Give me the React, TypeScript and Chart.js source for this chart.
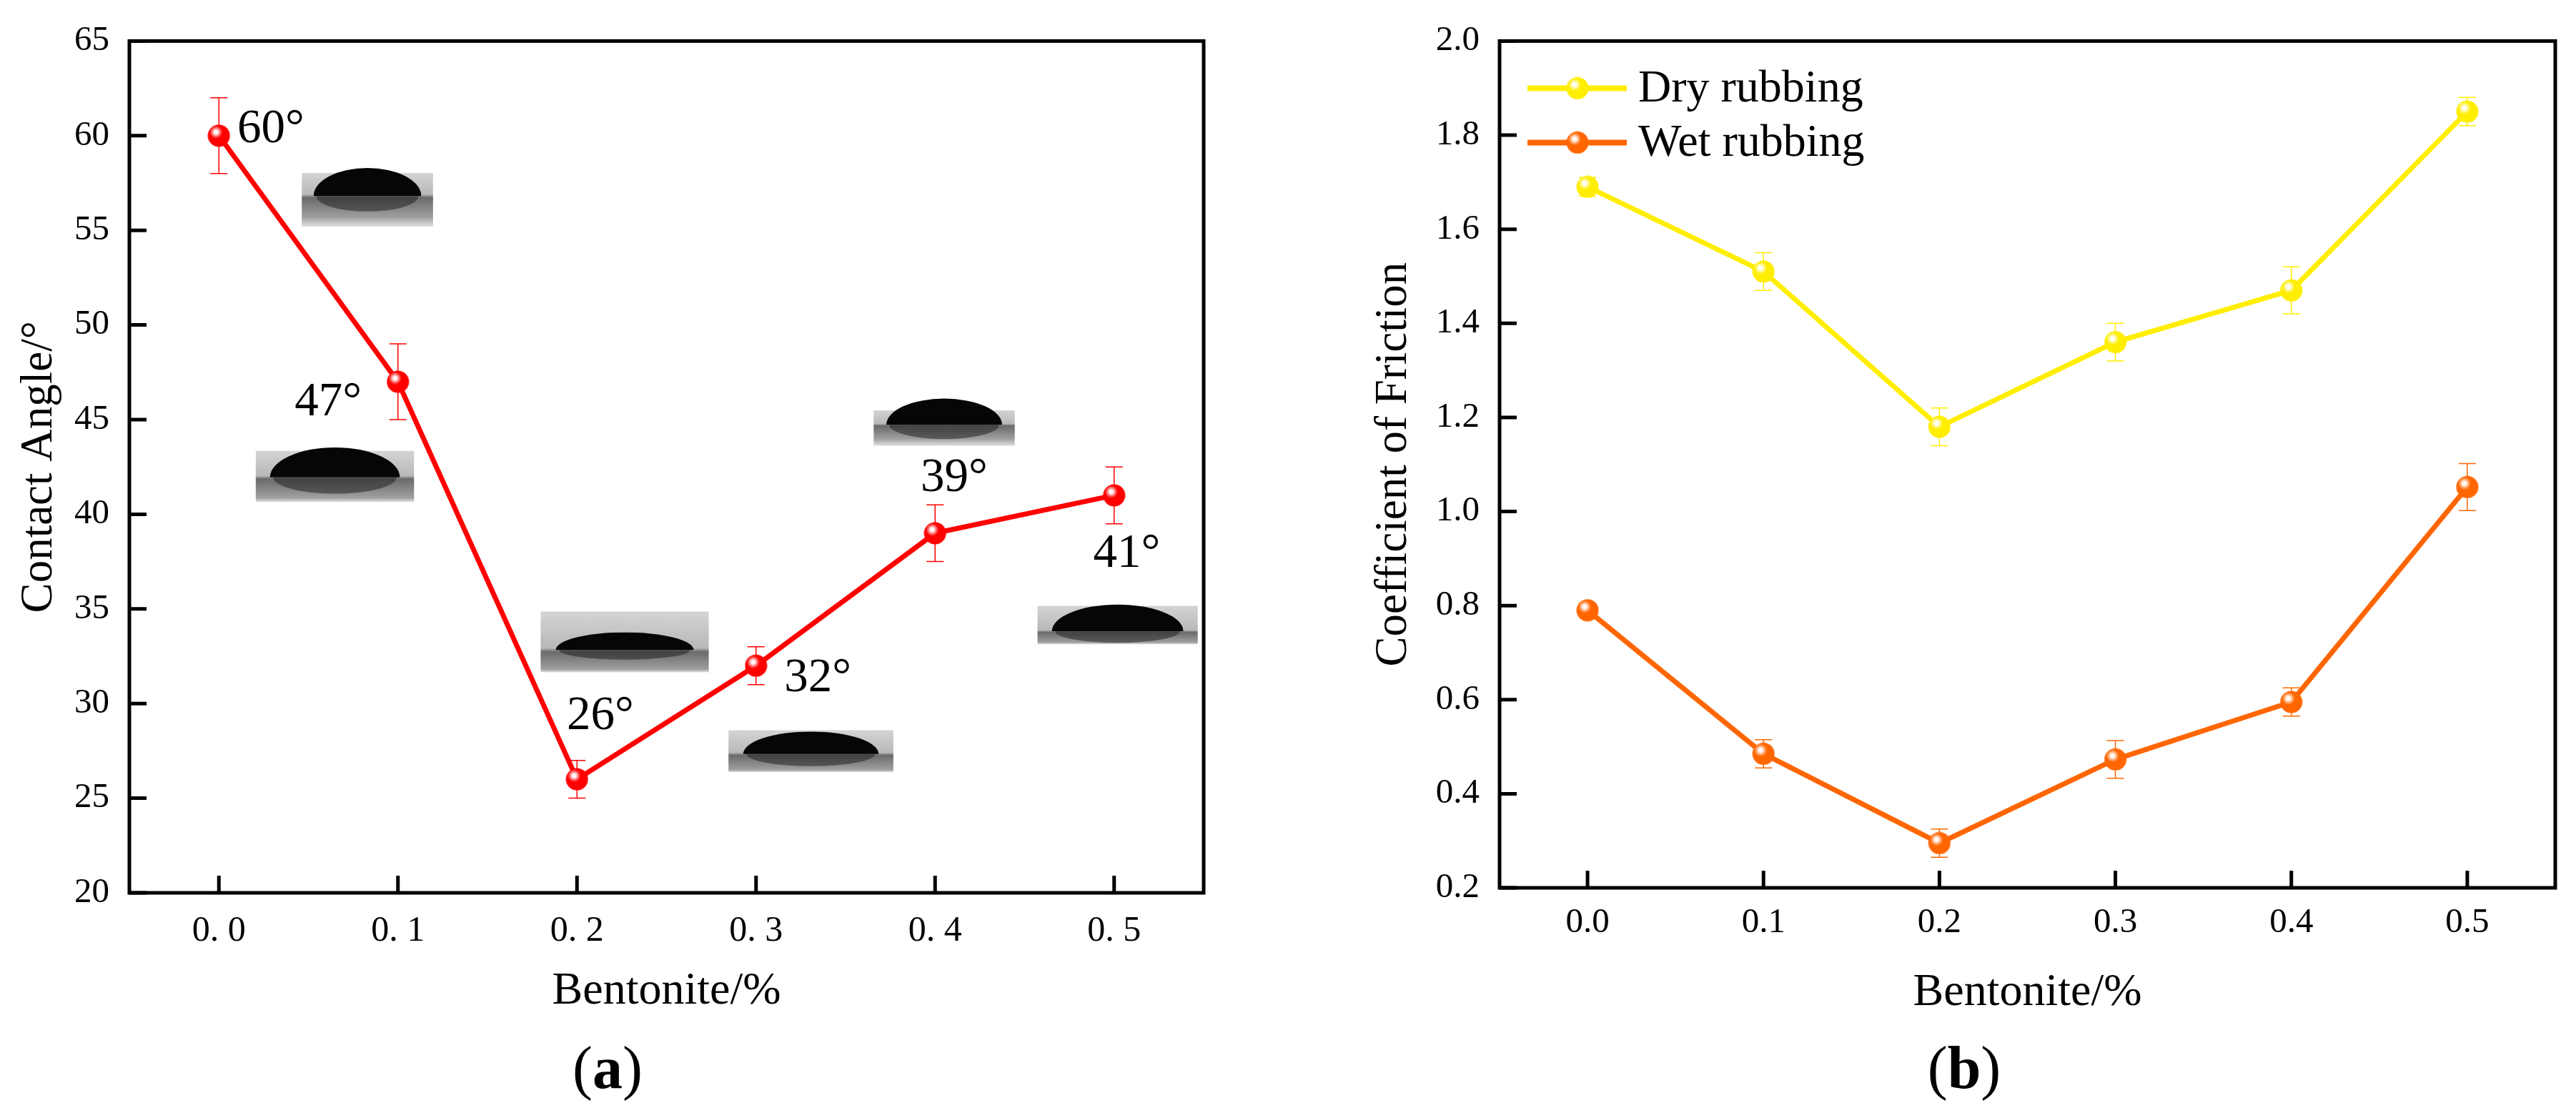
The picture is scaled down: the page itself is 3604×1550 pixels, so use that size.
import React, { useEffect, useRef } from 'react';
import { Chart, registerables } from 'chart.js';

Chart.register(...registerables);

const FONT = "'Liberation Serif', 'Times New Roman', serif";

// (a) contact angle
const bentonite = [0, 0.1, 0.2, 0.3, 0.4, 0.5];
const contactAngle = [60, 47, 26, 32, 39, 41];
const contactAngleErr = [2, 2, 1, 1, 1.5, 1.5];
const angleTicks = [20, 25, 30, 35, 40, 45, 50, 55, 60, 65];

// (b) coefficient of friction
const dryRubbing = [1.69, 1.51, 1.18, 1.36, 1.47, 1.85];
const dryRubbingErr = [0.02, 0.04, 0.04, 0.04, 0.05, 0.03];
const wetRubbing = [0.79, 0.485, 0.295, 0.473, 0.595, 1.052];
const wetRubbingErr = [0.015, 0.03, 0.03, 0.04, 0.03, 0.05];
const frictionTicks = [0.2, 0.4, 0.6, 0.8, 1.0, 1.2, 1.4, 1.6, 1.8, 2.0];
const bentoniteTicks = [0, 0.1, 0.2, 0.3, 0.4, 0.5];
const seriesNames = ['Dry rubbing', 'Wet rubbing'];

// annotations for (a): angle text and droplet photo stand-ins, in data units
const angleText = ['60°', '47°', '26°', '32°', '39°', '41°'];
const angleTextX = [0.029, 0.061, 0.213, 0.3345, 0.4106, 0.507];
const angleTextY = [60.3, 45.9, 29.3, 31.3, 41.9, 37.9];
// [xMin, xMax, yTop, yBottom, domeTop, baseline]
const droplets = [
  [0.0463, 0.1196, 58.03, 55.19, 58.29, 56.81],
  [0.0206, 0.109, 43.35, 40.65, 43.53, 41.95],
  [0.1797, 0.2736, 34.86, 31.65, 33.76, 32.83],
  [0.2846, 0.3767, 28.59, 26.38, 28.52, 27.34],
  [0.3657, 0.4445, 45.49, 43.61, 46.11, 44.73],
  [0.4572, 0.5467, 35.16, 33.13, 35.23, 33.82],
];

const RED = '#ff0000';
const YELLOW = '#ffee00';
const ORANGE = '#ff6600';

function sphere(color: string, d = 32): HTMLCanvasElement {
  const c = document.createElement('canvas');
  c.width = d;
  c.height = d;
  const g = c.getContext('2d')!;
  const r = d / 2;
  g.fillStyle = color;
  g.beginPath();
  g.arc(r, r, r - 0.5, 0, Math.PI * 2);
  g.fill();
  const hx = r - 4;
  const hy = r - 5;
  const grad = g.createRadialGradient(hx, hy, 0, hx, hy, 9);
  grad.addColorStop(0, 'rgba(255,255,255,1)');
  grad.addColorStop(0.3, 'rgba(255,255,255,0.95)');
  grad.addColorStop(0.6, 'rgba(255,255,255,0.5)');
  grad.addColorStop(1, 'rgba(255,255,255,0)');
  g.fillStyle = grad;
  g.beginPath();
  g.arc(r, r, r - 0.5, 0, Math.PI * 2);
  g.fill();
  return c;
}

// box frame + inward ticks
const framePlugin = {
  id: 'frame',
  afterDraw(chart: any) {
    const { ctx, chartArea, scales } = chart;
    const { left, right, top, bottom } = chartArea;
    ctx.save();
    ctx.strokeStyle = '#000';
    ctx.lineWidth = 5;
    ctx.beginPath();
    scales.x.ticks.forEach((t: any) => {
      const p = scales.x.getPixelForValue(t.value);
      ctx.moveTo(p, bottom);
      ctx.lineTo(p, bottom - 24);
    });
    scales.y.ticks.forEach((t: any) => {
      const p = scales.y.getPixelForValue(t.value);
      ctx.moveTo(left, p);
      ctx.lineTo(left + 24, p);
    });
    ctx.stroke();
    ctx.strokeRect(left, top, right - left, bottom - top);
    ctx.restore();
  },
};

function errorBarPlugin(errs: number[][], colors: string[]) {
  return {
    id: 'errorBars',
    beforeDatasetsDraw(chart: any) {
      const { ctx, scales } = chart;
      ctx.save();
      ctx.lineWidth = 1.5;
      chart.data.datasets.forEach((ds: any, di: number) => {
        const e = errs[di];
        if (!e) return;
        ctx.strokeStyle = colors[di];
        ds.data.forEach((pt: any, i: number) => {
          const px = scales.x.getPixelForValue(pt.x);
          const y0 = scales.y.getPixelForValue(pt.y - e[i]);
          const y1 = scales.y.getPixelForValue(pt.y + e[i]);
          ctx.beginPath();
          ctx.moveTo(px, y0);
          ctx.lineTo(px, y1);
          ctx.moveTo(px - 12, y0);
          ctx.lineTo(px + 12, y0);
          ctx.moveTo(px - 12, y1);
          ctx.lineTo(px + 12, y1);
          ctx.stroke();
        });
      });
      ctx.restore();
    },
  };
}

const decorPlugin = {
  id: 'decor',
  beforeDatasetsDraw(chart: any) {
    const { ctx, scales } = chart;
    const sx = scales.x;
    const sy = scales.y;
    ctx.save();
    droplets.forEach(([a, b, t, bt, dome, base]) => {
      const x0 = sx.getPixelForValue(a);
      const x1 = sx.getPixelForValue(b);
      const y0 = sy.getPixelForValue(t);
      const y1 = sy.getPixelForValue(bt);
      const yd = sy.getPixelForValue(dome);
      const yb = sy.getPixelForValue(base);
      const h = y1 - y0;
      const fb = Math.min(Math.max((yb - y0) / h, 0.05), 0.9);
      const g = ctx.createLinearGradient(0, y0, 0, y1);
      g.addColorStop(0, '#d4d4d4');
      g.addColorStop(fb - 0.03, '#b8b8b8');
      g.addColorStop(fb + 0.03, '#6a6a6a');
      g.addColorStop(Math.min(fb + 0.4, 0.95), '#a0a0a0');
      g.addColorStop(1, '#e2e2e2');
      ctx.fillStyle = g;
      ctx.fillRect(x0, y0, x1 - x0, h);
      const cx = (x0 + x1) / 2;
      const rx = (x1 - x0) * 0.41;
      const ry = Math.max(yb - yd, 4);
      ctx.fillStyle = '#060606';
      ctx.beginPath();
      ctx.ellipse(cx, yb, rx, ry, 0, Math.PI, Math.PI * 2);
      ctx.closePath();
      ctx.fill();
      const rh = Math.min(ry * 0.55, y1 - yb - 2);
      if (rh > 1) {
        ctx.fillStyle = 'rgba(35,35,35,0.55)';
        ctx.beginPath();
        ctx.ellipse(cx, yb, rx * 0.95, rh, 0, 0, Math.PI);
        ctx.closePath();
        ctx.fill();
      }
    });
    ctx.restore();
  },
  afterDatasetsDraw(chart: any) {
    const { ctx, scales } = chart;
    ctx.save();
    ctx.fillStyle = '#000';
    ctx.font = `67px ${FONT}`;
    ctx.textAlign = 'center';
    ctx.textBaseline = 'middle';
    angleText.forEach((txt, i) => {
      ctx.fillText(txt, scales.x.getPixelForValue(angleTextX[i]), scales.y.getPixelForValue(angleTextY[i]));
    });
    ctx.restore();
  },
};

function legendPlugin(colors: string[], markers: HTMLCanvasElement[]) {
  return {
    id: 'boxLegend',
    afterDraw(chart: any) {
      const { ctx, chartArea } = chart;
      const { left, top } = chartArea;
      ctx.save();
      ctx.font = `64px ${FONT}`;
      ctx.textBaseline = 'middle';
      ctx.textAlign = 'left';
      seriesNames.forEach((name, i) => {
        const y = top + 66 + i * 76;
        ctx.strokeStyle = colors[i];
        ctx.lineWidth = 8;
        ctx.beginPath();
        ctx.moveTo(left + 39, y);
        ctx.lineTo(left + 178, y);
        ctx.stroke();
        const m = markers[i];
        ctx.drawImage(m, left + 109 - m.width / 2, y - m.height / 2);
        ctx.fillStyle = '#000';
        ctx.fillText(name, left + 194, y + 2);
      });
      ctx.restore();
    },
  };
}

const tickFont = (size: number) => ({ family: FONT, size });

function PanelA() {
  const ref = useRef<HTMLCanvasElement | null>(null);
  useEffect(() => {
    if (!ref.current) return;
    const chart = new Chart(ref.current, {
      type: 'line',
      data: {
        datasets: [
          {
            data: bentonite.map((x, i) => ({ x, y: contactAngle[i] })),
            borderColor: RED,
            borderWidth: 7,
            pointStyle: sphere(RED) as any,
            pointRadius: 16,
            tension: 0,
          },
        ],
      },
      options: {
        animation: false,
        responsive: true,
        maintainAspectRatio: false,
        layout: { padding: { top: 43, right: 116, left: 0, bottom: 0 } },
        plugins: { legend: { display: false }, tooltip: { enabled: false } },
        scales: {
          x: {
            type: 'linear',
            min: -0.05,
            max: 0.55,
            afterBuildTicks: (s: any) => {
              s.ticks = bentoniteTicks.map((v) => ({ value: v }));
            },
            afterFit: (s: any) => {
              s.height = 301;
            },
            grid: { display: false, drawTicks: false },
            border: { display: false },
            ticks: {
              padding: 24,
              color: '#000',
              font: tickFont(50),
              maxRotation: 0,
              autoSkip: false,
              callback: (v: any) => Number(v).toFixed(1).replace('.', '. '),
            },
            title: {
              display: true,
              text: 'Bentonite/%',
              color: '#000',
              font: tickFont(64),
              padding: { top: 0, bottom: 124 },
            },
          },
          y: {
            type: 'linear',
            min: 20,
            max: 65,
            afterBuildTicks: (s: any) => {
              s.ticks = angleTicks.map((v) => ({ value: v }));
            },
            afterFit: (s: any) => {
              s.width = 181;
            },
            grid: { display: false, drawTicks: false },
            border: { display: false },
            ticks: {
              padding: 28,
              color: '#000',
              font: tickFont(49),
              autoSkip: false,
              callback: (v: any) => String(v),
            },
            title: {
              display: true,
              text: 'Contact Angle/°',
              color: '#000',
              font: tickFont(63),
              padding: { top: 18, bottom: 0 },
            },
          },
        },
      },
      plugins: [framePlugin, decorPlugin, errorBarPlugin([contactAngleErr], [RED])],
    });
    return () => chart.destroy();
  }, []);
  return <canvas ref={ref} />;
}

function PanelB() {
  const ref = useRef<HTMLCanvasElement | null>(null);
  useEffect(() => {
    if (!ref.current) return;
    const dryMarker = sphere(YELLOW);
    const wetMarker = sphere(ORANGE);
    const chart = new Chart(ref.current, {
      type: 'line',
      data: {
        datasets: [
          {
            label: seriesNames[0],
            data: bentonite.map((x, i) => ({ x, y: dryRubbing[i] })),
            borderColor: YELLOW,
            borderWidth: 7,
            pointStyle: dryMarker as any,
            pointRadius: 16,
            tension: 0,
          },
          {
            label: seriesNames[1],
            data: bentonite.map((x, i) => ({ x, y: wetRubbing[i] })),
            borderColor: ORANGE,
            borderWidth: 7,
            pointStyle: wetMarker as any,
            pointRadius: 16,
            tension: 0,
          },
        ],
      },
      options: {
        animation: false,
        responsive: true,
        maintainAspectRatio: false,
        layout: { padding: { top: 45, right: 29, left: 0, bottom: 0 } },
        plugins: { legend: { display: false }, tooltip: { enabled: false } },
        scales: {
          x: {
            type: 'linear',
            min: -0.05,
            max: 0.55,
            afterBuildTicks: (s: any) => {
              s.ticks = bentoniteTicks.map((v) => ({ value: v }));
            },
            afterFit: (s: any) => {
              s.height = 308;
            },
            grid: { display: false, drawTicks: false },
            border: { display: false },
            ticks: {
              padding: 20,
              color: '#000',
              font: tickFont(49),
              maxRotation: 0,
              autoSkip: false,
              callback: (v: any) => Number(v).toFixed(1),
            },
            title: {
              display: true,
              text: 'Bentonite/%',
              color: '#000',
              font: tickFont(64),
              padding: { top: 0, bottom: 122 },
            },
          },
          y: {
            type: 'linear',
            min: 0.2,
            max: 2.0,
            afterBuildTicks: (s: any) => {
              s.ticks = frictionTicks.map((v) => ({ value: v }));
            },
            afterFit: (s: any) => {
              s.width = 298;
            },
            grid: { display: false, drawTicks: false },
            border: { display: false },
            ticks: {
              padding: 28,
              color: '#000',
              font: tickFont(49),
              autoSkip: false,
              callback: (v: any) => Number(v).toFixed(1),
            },
            title: {
              display: true,
              text: 'Coefficient of Friction',
              color: '#000',
              font: tickFont(63),
              padding: { top: 113, bottom: 0 },
            },
          },
        },
      },
      plugins: [
        framePlugin,
        errorBarPlugin([dryRubbingErr, wetRubbingErr], [YELLOW, ORANGE]),
        legendPlugin([YELLOW, ORANGE], [dryMarker, wetMarker]),
      ],
    });
    return () => chart.destroy();
  }, []);
  return <canvas ref={ref} />;
}

const panelLabel = (left: number): React.CSSProperties => ({
  position: 'absolute',
  left,
  top: 1494,
  transform: 'translate(-50%, -50%)',
  fontFamily: FONT,
  fontSize: 84,
  lineHeight: 1,
  color: '#000',
  whiteSpace: 'nowrap',
});

export default function App() {
  return (
    <div
      style={{
        position: 'fixed',
        left: 0,
        top: 0,
        width: 3604,
        height: 1550,
        background: '#fff',
        overflow: 'hidden',
      }}
    >
      <div style={{ position: 'absolute', left: 0, top: 0, width: 1800, height: 1550 }}>
        <PanelA />
      </div>
      <div style={{ position: 'absolute', left: 1800, top: 0, width: 1804, height: 1550 }}>
        <PanelB />
      </div>
      <div style={panelLabel(850)}>
        (<b>a</b>)
      </div>
      <div style={panelLabel(2748)}>
        (<b>b</b>)
      </div>
    </div>
  );
}
